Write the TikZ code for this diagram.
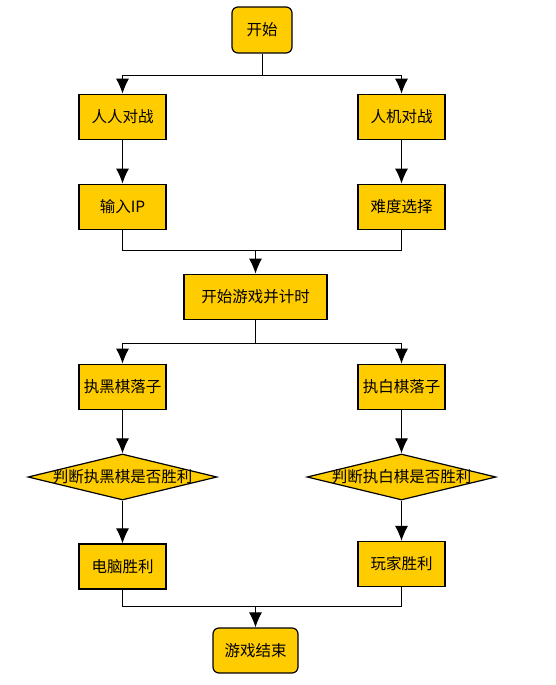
\documentclass[tikz,border=0pt]{standalone}
\usepackage{fontspec}
\setmainfont{Noto Sans CJK SC}
\usetikzlibrary{shapes.geometric,arrows.meta}
\definecolor{boxfill}{HTML}{FFCC00}
\begin{document}
\begin{tikzpicture}[x=1pt,y=1pt,
  box/.style={draw=black, fill=boxfill, line width=1.2pt, minimum width=87pt, minimum height=45pt, inner sep=0pt, font=\fontsize{15.5}{15.5}\selectfont},
  term/.style={box, rounded corners=6pt},
  dia/.style={draw=black, fill=boxfill, line width=1.2pt, diamond, inner sep=0pt, minimum width=189pt, minimum height=46pt},
  lbl/.style={font=\fontsize{15.5}{15.5}\selectfont, inner sep=0pt},
  conn/.style={line width=1pt, -{Latex[length=15pt,width=13pt]}},
  plain/.style={line width=1pt}]
\useasboundingbox (0,0) rectangle (556,-685);
\node[term, minimum width=60pt, minimum height=46pt] (start) at (262,-30) {开始};
\node[box] (rr) at (122.5,-116.8) {人人对战};
\node[box] (rj) at (401.5,-116.8) {人机对战};
\node[box] (ip) at (122.5,-206.7) {输入IP};
\node[box] (nd) at (401.5,-206.7) {难度选择};
\node[box, minimum width=143pt] (game) at (255.5,-296.7) {开始游戏并计时};
\node[box] (hei) at (122.5,-386.8) {执黑棋落子};
\node[box] (bai) at (401.5,-386.8) {执白棋落子};
\node[dia] (dh) at (122.5,-477) {};
\node[lbl] (dht) at (dh.center) {判断执黑棋是否胜利};
\node[dia] (db) at (401.5,-477) {};
\node[lbl] (dbt) at (db.center) {判断执白棋是否胜利};
\node[box] (pc) at (122.5,-566.5) {电脑胜利};
\node[box] (wj) at (401.5,-564) {玩家胜利};
\node[term, minimum width=85pt] (end) at (255.5,-650.5) {游戏结束};
\coordinate (b1) at (262,-75);
\draw[plain] (start.south) -- (b1);
\draw[conn] (b1) -| (rr.north);
\draw[conn] (b1) -| (rj.north);
\draw[conn] (rr) -- (ip);
\draw[conn] (rj) -- (nd);
\coordinate (m1) at (255.5,-250);
\draw[plain] (ip.south) |- (m1);
\draw[plain] (nd.south) |- (m1);
\draw[conn] (m1) -- (game.north);
\coordinate (b2) at (255.5,-343.3);
\draw[plain] (game.south) -- (b2);
\draw[conn] (b2) -| (hei.north);
\draw[conn] (b2) -| (bai.north);
\draw[conn] (hei) -- (dh);
\draw[conn] (bai) -- (db);
\draw[conn] (dh) -- (pc);
\draw[conn] (db) -- (wj);
\coordinate (m2) at (255.5,-606.7);
\draw[plain] (pc.south) |- (m2);
\draw[plain] (wj.south) |- (m2);
\draw[conn] (m2) -- (end.north);
\end{tikzpicture}
\end{document}
